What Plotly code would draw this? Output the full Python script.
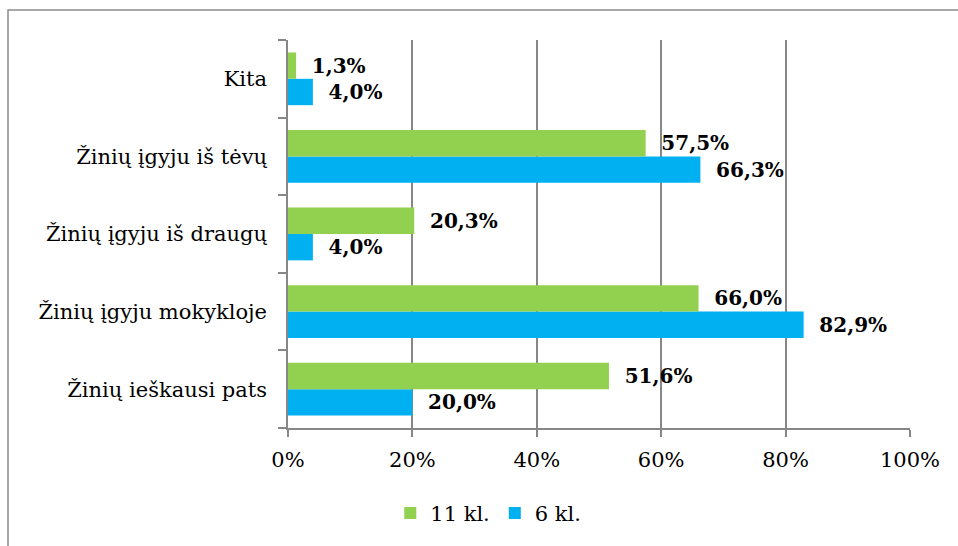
import plotly.graph_objects as go

categories = ["Žinių ieškausi pats", "Žinių įgyju mokykloje", "Žinių įgyju iš draugų",
              "Žinių įgyju iš tėvų", "Kita"]
vals_11 = [51.6, 66.0, 20.3, 57.5, 1.3]
vals_6 = [20.0, 82.9, 4.0, 66.3, 4.0]
labels_11 = ["51,6%", "66,0%", "20,3%", "57,5%", "1,3%"]
labels_6 = ["20,0%", "82,9%", "4,0%", "66,3%", "4,0%"]
x_ticks = [0, 20, 40, 60, 80, 100]
x_ticklabels = ["0%", "20%", "40%", "60%", "80%", "100%"]

W, H = 958, 546
ML, MR, MT, MB = 288, 48, 40, 118
pw, ph = W - ML - MR, H - MT - MB

FONT = "DejaVu Serif"
GREEN = "#92D050"
BLUE = "#00B0F0"
GRID = "#878787"
pad = "\u00a0\u00a0"

fig = go.Figure()
fig.add_trace(go.Bar(
    y=categories, x=vals_6, orientation="h", name="6 kl.",
    marker=dict(color=BLUE, line=dict(width=0)),
    text=[pad + "<b>" + t + "</b>" for t in labels_6],
    textposition="outside", constraintext="none", cliponaxis=False,
    textfont=dict(family=FONT, size=20, color="black"),
))
fig.add_trace(go.Bar(
    y=categories, x=vals_11, orientation="h", name="11 kl.",
    marker=dict(color=GREEN, line=dict(width=0)),
    text=[pad + "<b>" + t + "</b>" for t in labels_11],
    textposition="outside", constraintext="none", cliponaxis=False,
    textfont=dict(family=FONT, size=20, color="black"),
))

# outer chart border (only left and top edges fall inside the picture)
fig.add_shape(type="rect", xref="paper", yref="paper",
              x0=(8 - ML) / pw, x1=(W + 5 - ML) / pw,
              y0=-(H + 5 - MT - ph) / ph, y1=(ph + MT - 10) / ph,
              line=dict(color="#8c8c8c", width=1.5), fillcolor="rgba(0,0,0,0)",
              layer="below")

fig.update_layout(
    width=W, height=H,
    margin=dict(l=ML, r=MR, t=MT, b=MB, pad=0),
    paper_bgcolor="white", plot_bgcolor="white",
    barmode="group", bargap=0.32, bargroupgap=0,
    font=dict(family=FONT, size=21, color="black"),
    showlegend=True,
    legend=dict(orientation="h", x=0.322, xanchor="center", y=-0.22, yanchor="middle",
                traceorder="reversed", font=dict(family=FONT, size=21, color="black"),
                itemwidth=30, tracegroupgap=0),
    xaxis=dict(range=[0, 100], tickvals=x_ticks, ticktext=x_ticklabels,
               showgrid=True, gridcolor=GRID, gridwidth=1.5,
               showline=True, linecolor=GRID, linewidth=1.5,
               ticks="outside", ticklen=7, tickcolor=GRID, tickwidth=1.5,
               tickfont=dict(family=FONT, size=21), zeroline=False,
               ticklabelstandoff=5, fixedrange=True),
    yaxis=dict(showline=True, linecolor=GRID, linewidth=1.5,
               ticks="outside", ticklen=8, tickcolor=GRID, tickwidth=1.5,
               tickson="boundaries", showgrid=False,
               tickfont=dict(family=FONT, size=21), ticklabelstandoff=15,
               fixedrange=True),
)

fig.write_html("out.html")
